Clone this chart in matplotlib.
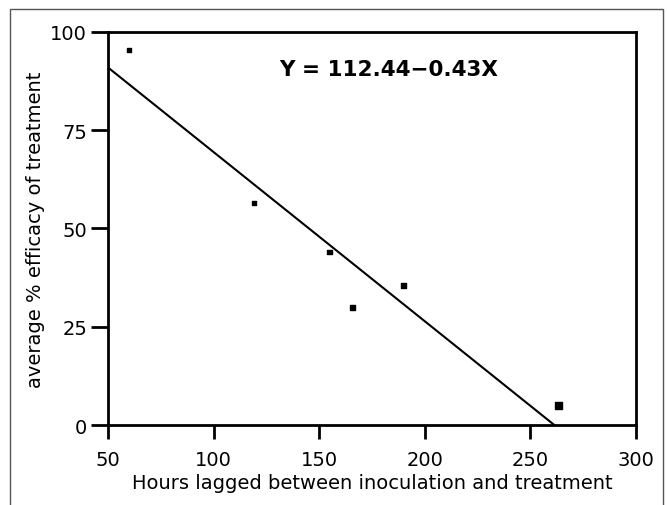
import numpy as np
import matplotlib.pyplot as plt

hours = [60, 119, 155, 166, 190, 263.5]
efficacy = [95.5, 56.5, 44, 30, 35.5, 5]
sizes = [8, 9, 12, 12, 12, 30]

intercept = 112.44
slope = -0.43

fig = plt.figure(figsize=(6.67, 5.06), dpi=100)
ax = fig.add_axes([0.162, 0.158, 0.791, 0.777])

ax.scatter(hours, efficacy, s=sizes, marker='s', color='black', zorder=3)
xl = np.array([50, -intercept / slope])
ax.plot(xl, intercept + slope * xl, color='black', lw=1.5)

ax.text(131, 90.5, "Y = 112.44\u22120.43X", fontsize=15.5, fontweight='bold', va='center')

ax.set_xlim(50, 300)
ax.set_ylim(0, 100)
ax.set_xticks([50, 100, 150, 200, 250, 300])
ax.set_yticks([0, 25, 50, 75, 100])
for s in ax.spines.values():
    s.set_linewidth(2)
ax.tick_params(direction='out', width=2, labelsize=14)
ax.tick_params(axis='x', length=10, pad=8)
ax.tick_params(axis='y', length=12, pad=3)
ax.set_xlabel("Hours lagged between inoculation and treatment", fontsize=14, labelpad=3)
ax.set_ylabel("average % efficacy of treatment", fontsize=14, labelpad=4)

fig.patches.append(plt.Rectangle((0.015, -0.02), 0.979, 1.0, transform=fig.transFigure,
                                 fill=False, edgecolor='#555555', lw=1))
plt.savefig("out.png", dpi=100)
